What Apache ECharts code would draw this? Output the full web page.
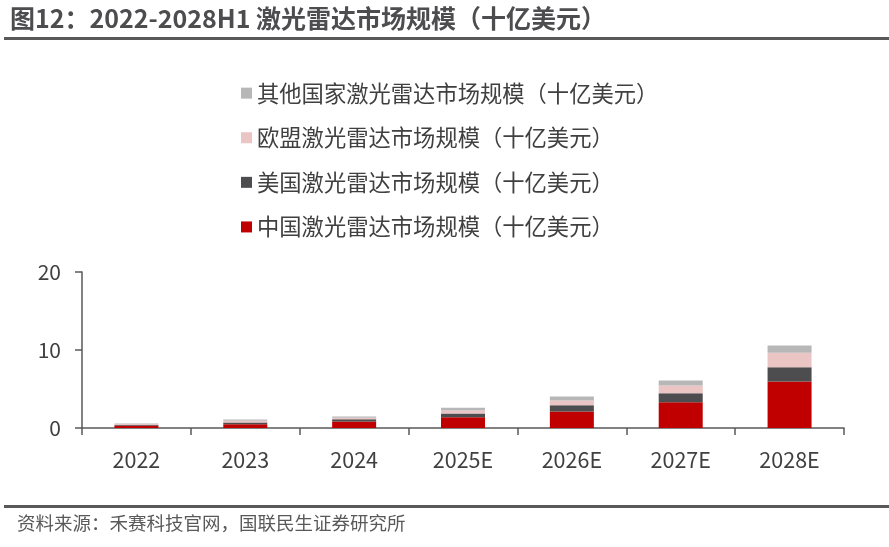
<!DOCTYPE html>
<html><head><meta charset="utf-8">
<script src="https://cdn.jsdelivr.net/npm/echarts@6/dist/echarts.min.js"></script>
<style>html,body{margin:0;padding:0;background:#fff}#c{width:889px;height:547px}</style>
</head><body><div id="c"></div>
<script>
const categories = ['2022','2023','2024','2025E','2026E','2027E','2028E'];
const chinaValues = [0.28, 0.49, 0.83, 1.38, 2.12, 3.31, 5.96];
const usValues    = [0.10, 0.21, 0.30, 0.48, 0.80, 1.15, 1.83];
const euValues    = [0.12, 0.22, 0.17, 0.38, 0.61, 0.99, 1.85];
const otherValues = [0.08, 0.17, 0.17, 0.35, 0.51, 0.64, 0.94];
const yTicks = [0, 10, 20];
const seriesNames = ['中国激光雷达市场规模（十亿美元）','美国激光雷达市场规模（十亿美元）','欧盟激光雷达市场规模（十亿美元）','其他国家激光雷达市场规模（十亿美元）'];
const titleText = '图12：2022-2028H1 激光雷达市场规模（十亿美元）';
const sourceText = '资料来源：禾赛科技官网，国联民生证券研究所';

const FONT = '"Noto Sans CJK SC", "Noto Sans", sans-serif';
const colors = ['#C00000','#4D4D4F','#EBC4C4','#B7B7B7'];
const values = [chinaValues, usValues, euValues, otherValues];

const chart = echarts.init(document.getElementById('c'), null, {renderer:'canvas'});
chart.setOption({
  animation:false,
  textStyle:{fontFamily:FONT},
  graphic:[
    {type:'text', left:10, top:6, style:{text:titleText, font:'bold 25px '+FONT, fill:'#4D4D4F'}},
    {type:'rect', shape:{x:4,y:37,width:885,height:3}, style:{fill:'#595959'}},
    {type:'rect', shape:{x:4,y:505,width:885,height:3}, style:{fill:'#595959'}},
    {type:'text', left:17, top:514, style:{text:sourceText, font:'18.5px '+FONT, fill:'#595959'}}
  ],
  legend:{
    orient:'vertical', left:236, top:77, itemGap:22.3,
    itemWidth:11, itemHeight:11, icon:'rect',
    data:[seriesNames[3],seriesNames[2],seriesNames[1],seriesNames[0]],
    textStyle:{fontSize:22.3, color:'#404040', fontFamily:FONT, padding:[0,0,0,0]}
  },
  grid:{left:82, right:45, top:272, bottom:119, containLabel:false},
  xAxis:{
    type:'category', data:categories,
    axisLine:{lineStyle:{color:'#595959', width:1.5}},
    axisTick:{show:true, length:7, lineStyle:{color:'#595959', width:1.5}},
    axisLabel:{fontSize:21.5, color:'#404040', margin:21, fontFamily:FONT}
  },
  yAxis:{
    type:'value', min:0, max:20, interval:10,
    axisLine:{show:true, lineStyle:{color:'#595959', width:1.5}},
    axisTick:{show:true, length:7, lineStyle:{color:'#595959', width:1.5}},
    splitLine:{show:false},
    axisLabel:{fontSize:21, color:'#404040', margin:21, fontFamily:FONT,
      formatter:v=>yTicks.includes(v)?String(v):''}
  },
  series: values.map((d,i)=>({
    name:seriesNames[i], type:'bar', stack:'total', data:d, barWidth:44,
    itemStyle:{color:colors[i]}
  }))
});
</script></body></html>
